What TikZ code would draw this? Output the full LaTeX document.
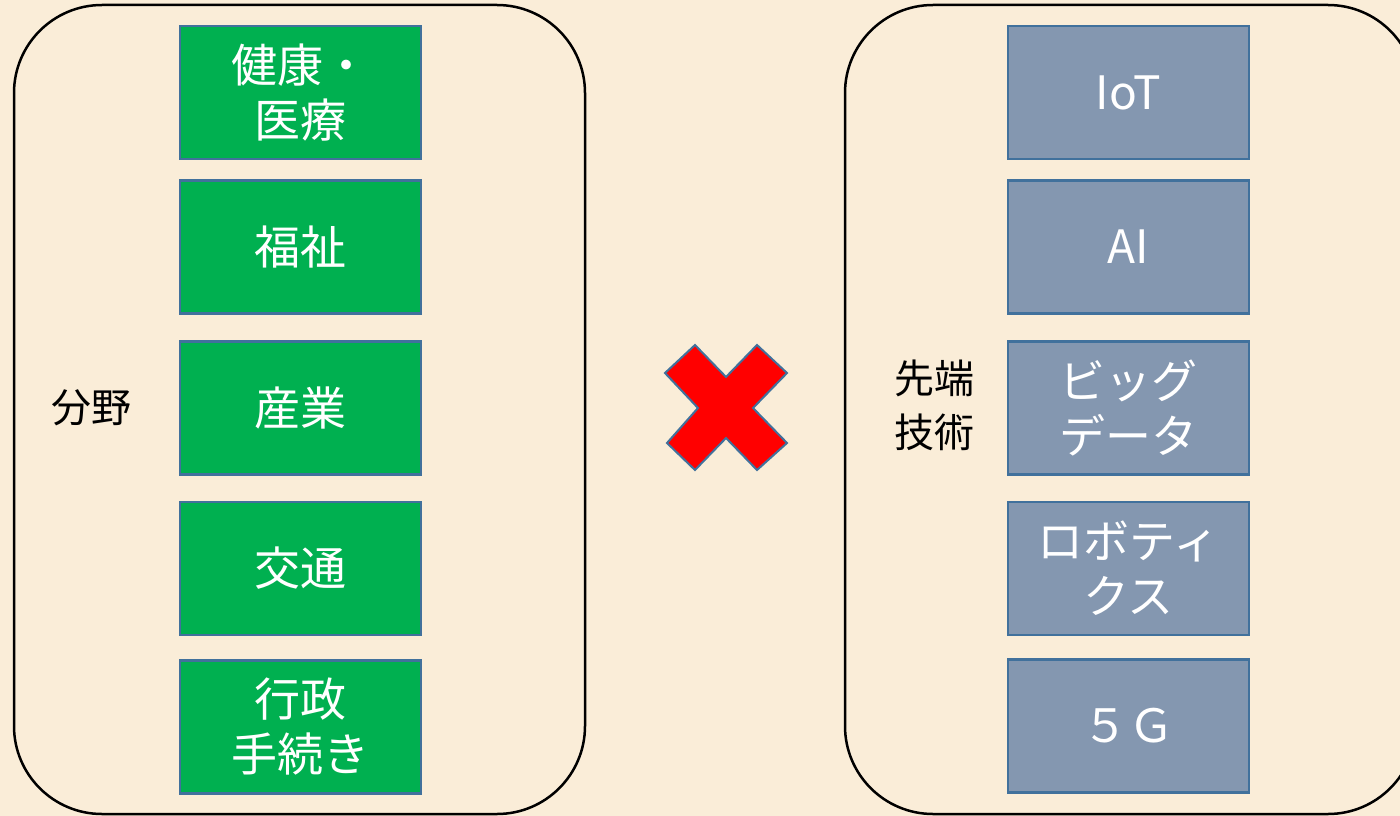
\documentclass[tikz,border=0pt]{standalone}
\usepackage{fontspec}
\setmainfont{Noto Sans CJK JP}
\definecolor{bg}{HTML}{FAEDD8}
\definecolor{fgreen}{HTML}{00B050}
\definecolor{tgray}{HTML}{8497B0}
\definecolor{boxline}{HTML}{41719C}
\begin{document}
\begin{tikzpicture}[x=1pt,y=-1pt,
  field/.style={draw=boxline, line width=2.2pt, fill=fgreen, minimum width=241pt, minimum height=133pt,
    inner sep=0pt, text=white, align=center, font=\fontsize{46}{55}\selectfont},
  tech/.style={field, fill=tgray},
  group/.style={draw=black, line width=2.5pt, rounded corners=88pt},
  lbl/.style={text=black, align=center, font=\fontsize{40}{54}\selectfont},
  cross/.style={fill=red, draw=boxline, line width=2pt, line join=miter}]
\fill[bg] (0,0) rectangle (1400,816);
\useasboundingbox (0,0) rectangle (1400,816);
\clip (0,0) rectangle (1400,816);
\draw[group] (14,5) rectangle (585,814);
\draw[group] (845,5) rectangle (1416,814);
% fields
\node[field] (health) at (300.5,92.5) {健康・\\医療};
\node[field] (welfare) at (300.5,247) {福祉};
\node[field] (industry) at (300.5,408) {産業};
\node[field] (traffic) at (300.5,568.5) {交通};
\node[field] (admin) at (300.5,727) {行政\\手続き};
\node[lbl] (fieldlbl) at (91,408) {分野};
% technologies
\node[tech] (iot) at (1128.5,92.5) {IoT};
\node[tech] (ai) at (1128.5,247) {AI};
\node[tech] (bigdata) at (1128.5,408) {ビッグ\\データ};
\node[tech] (robotics) at (1128.5,568.5) {ロボティ\\クス};
\node[tech] (fiveg) at (1128.5,726) {５Ｇ};
\node[lbl] (techlbl) at (934,405) {先端\\技術};
% cross
\draw[cross] (695,345) -- (726,377) -- (757,345) -- (787,373) -- (753,408) -- (787,443)
  -- (757,470) -- (726,438) -- (695,470) -- (667,443) -- (698,408) -- (665,373) -- cycle;
\end{tikzpicture}
\end{document}
